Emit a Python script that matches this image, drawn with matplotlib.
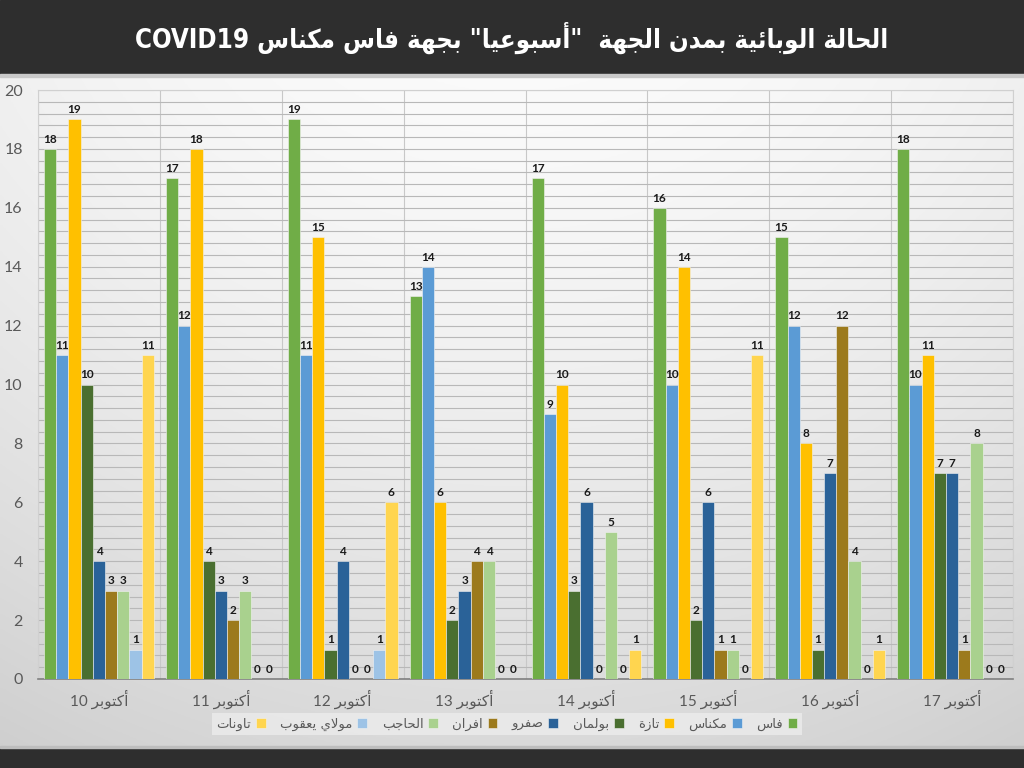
import re
import numpy as np
import matplotlib
matplotlib.use('Agg')
import matplotlib.pyplot as plt
from matplotlib.patches import Rectangle
from matplotlib.ticker import MultipleLocator

# ---------------- data ----------------
days = [10, 11, 12, 13, 14, 15, 16, 17]
month = 'أكتوبر'
title = 'الحالة الوبائية بمدن الجهة  "أسبوعيا" بجهة فاس مكناس COVID19'
series_names = ['فاس', 'مكناس', 'تازة', 'بولمان', 'صفرو', 'افران',
                'الحاجب', 'مولاي يعقوب', 'تاونات']
fes      = [18, 17, 19, 13, 17, 16, 15, 18]
meknes   = [11, 12, 11, 14, 9, 10, 12, 10]
taza     = [19, 18, 15, 6, 10, 14, 8, 11]
boulmane = [10, 4, 1, 2, 3, 2, 1, 7]
sefrou   = [4, 3, 4, 3, 6, 6, 7, 7]
ifrane   = [3, 2, 0, 4, 0, 1, 12, 1]
hajeb    = [3, 3, 0, 4, 5, 1, 4, 8]
moulay   = [1, 0, 1, 0, 0, 0, 0, 0]
taounate = [11, 0, 6, 0, 1, 11, 1, 0]
series_values = [fes, meknes, taza, boulmane, sefrou, ifrane, hajeb, moulay, taounate]
colors = ['#70AD47', '#5B9BD5', '#FFC000', '#4A6F30', '#2A6298', '#9C7A1C',
          '#A9D18E', '#9DC3E6', '#FFD54F']

# ------------- Arabic shaping (presentation forms + visual order) -------------
_F = {
    'ا': (0xFE8D, 0xFE8E, None, None), 'أ': (0xFE83, 0xFE84, None, None),
    'إ': (0xFE87, 0xFE88, None, None), 'آ': (0xFE81, 0xFE82, None, None),
    'ب': (0xFE8F, 0xFE90, 0xFE91, 0xFE92), 'ة': (0xFE93, 0xFE94, None, None),
    'ت': (0xFE95, 0xFE96, 0xFE97, 0xFE98), 'ث': (0xFE99, 0xFE9A, 0xFE9B, 0xFE9C),
    'ج': (0xFE9D, 0xFE9E, 0xFE9F, 0xFEA0), 'ح': (0xFEA1, 0xFEA2, 0xFEA3, 0xFEA4),
    'خ': (0xFEA5, 0xFEA6, 0xFEA7, 0xFEA8), 'د': (0xFEA9, 0xFEAA, None, None),
    'ذ': (0xFEAB, 0xFEAC, None, None), 'ر': (0xFEAD, 0xFEAE, None, None),
    'ز': (0xFEAF, 0xFEB0, None, None), 'س': (0xFEB1, 0xFEB2, 0xFEB3, 0xFEB4),
    'ش': (0xFEB5, 0xFEB6, 0xFEB7, 0xFEB8), 'ص': (0xFEB9, 0xFEBA, 0xFEBB, 0xFEBC),
    'ض': (0xFEBD, 0xFEBE, 0xFEBF, 0xFEC0), 'ط': (0xFEC1, 0xFEC2, 0xFEC3, 0xFEC4),
    'ظ': (0xFEC5, 0xFEC6, 0xFEC7, 0xFEC8), 'ع': (0xFEC9, 0xFECA, 0xFECB, 0xFECC),
    'غ': (0xFECD, 0xFECE, 0xFECF, 0xFED0), 'ف': (0xFED1, 0xFED2, 0xFED3, 0xFED4),
    'ق': (0xFED5, 0xFED6, 0xFED7, 0xFED8), 'ك': (0xFED9, 0xFEDA, 0xFEDB, 0xFEDC),
    'ل': (0xFEDD, 0xFEDE, 0xFEDF, 0xFEE0), 'م': (0xFEE1, 0xFEE2, 0xFEE3, 0xFEE4),
    'ن': (0xFEE5, 0xFEE6, 0xFEE7, 0xFEE8), 'ه': (0xFEE9, 0xFEEA, 0xFEEB, 0xFEEC),
    'و': (0xFEED, 0xFEEE, None, None), 'ى': (0xFEEF, 0xFEF0, None, None),
    'ي': (0xFEF1, 0xFEF2, 0xFEF3, 0xFEF4), 'ئ': (0xFE89, 0xFE8A, 0xFE8B, 0xFE8C),
}
_LAMALEF = {'ا': (0xFEFB, 0xFEFC), 'أ': (0xFEF7, 0xFEF8),
            'إ': (0xFEF9, 0xFEFA), 'آ': (0xFEF5, 0xFEF6)}


def _joins_next(c):
    return c in _F and _F[c][2] is not None


def shape(s):
    out, i, n = [], 0, len(s)
    while i < n:
        c = s[i]
        if c not in _F:
            out.append(c); i += 1; continue
        pj = _joins_next(s[i - 1]) if i > 0 else False
        if c == 'ل' and i + 1 < n and s[i + 1] in _LAMALEF:
            iso, fin = _LAMALEF[s[i + 1]]
            out.append(chr(fin if pj else iso)); i += 2; continue
        nj = (i + 1 < n) and (s[i + 1] in _F)
        iso, fin, ini, med = _F[c]
        if ini is None:
            f = fin if pj else iso
        elif pj and nj:
            f = med
        elif pj:
            f = fin
        elif nj:
            f = ini
        else:
            f = iso
        out.append(chr(f)); i += 1
    return ''.join(out)


def ar(s):
    t = shape(s)[::-1]
    return re.sub(r'[A-Za-z0-9]+', lambda m: m.group(0)[::-1], t)


# ---------------- figure ----------------
W, H = 1024, 768
fig = plt.figure(figsize=(W / 100, H / 100), dpi=100)

# background gradient
bg = fig.add_axes([0, 0, 1, 1], zorder=-10)
bg.set_axis_off()
yy = np.linspace(0, 1, 300)[:, None]
xx = np.linspace(-1, 1, 300)[None, :]
val = 0.985 - 0.14 * yy ** 1.6 - 0.04 * xx ** 2
img = np.dstack([val, val, val])
bg.imshow(img, extent=[0, 1, 0, 1], aspect='auto', origin='upper')
bg.set_xlim(0, 1); bg.set_ylim(0, 1)
bg.add_patch(Rectangle((0, 1 - 74 / H), 1, 74 / H, color='#2e2e2e'))
bg.add_patch(Rectangle((0, 1 - 77 / H), 1, 3 / H, color='#c9c9c9'))
bg.add_patch(Rectangle((0, 0), 1, 20 / H, color='#2e2e2e'))
bg.add_patch(Rectangle((0, 20 / H), 1, 2 / H, color='#bdbdbd'))
bg.text(0.5, 1 - 38 / H, ar(title), color='white', ha='center', va='center',
        fontsize=18.5, fontweight='bold', fontstretch='condensed',
        family=['DejaVu Sans'])

ax = fig.add_axes([38 / W, 1 - 679 / H, (1013 - 38) / W, (679 - 90) / H])
ax.set_facecolor('none')

n = len(series_names)
x = np.arange(len(days))
bw = 0.1
for j, (name, vals, col) in enumerate(zip(series_names, series_values, colors)):
    pos = x + (j - (n - 1) / 2) * bw
    bars = ax.bar(pos, vals, width=bw, color=col, edgecolor='#f2f2f2',
                  linewidth=0.4, zorder=3, label=ar(name))
    for b, v in zip(bars, vals):
        ax.annotate(str(v), (b.get_x() + b.get_width() / 2, v),
                    xytext=(0, 3), textcoords='offset points',
                    ha='center', va='bottom', fontsize=8.5, fontweight='bold',
                    color='#1a1a1a', family=['Lato', 'DejaVu Sans'], zorder=4)

ax.set_xlim(-0.5, len(days) - 0.5)
ax.set_ylim(0, 20)
ax.yaxis.set_major_locator(MultipleLocator(2))
ax.yaxis.set_minor_locator(MultipleLocator(0.4))
ax.set_xticks(x)
ax.set_xticks(np.arange(-0.5, len(days), 0.5), minor=True)
ax.set_xticklabels([f'{d} ' + ar(month) for d in days],
                   family=['Lato', 'DejaVu Sans'], fontsize=11, color='#595959')
for lab in ax.get_yticklabels():
    lab.set_family(['Lato', 'DejaVu Sans'])
ax.tick_params(axis='y', labelsize=11.5, labelcolor='#595959', length=0, pad=11)
ax.tick_params(axis='x', length=0, pad=8)
ax.tick_params(which='minor', length=0)
ax.grid(which='both', axis='y', color='#b8b8b8', linewidth=0.8, zorder=0)
ax.grid(which='minor', axis='x', color='#c8c8c8', linewidth=0.8, zorder=0)
ax.set_axisbelow(True)
for s in ['top', 'right', 'left']:
    ax.spines[s].set_color('#d0d0d0')
    ax.spines[s].set_linewidth(0.8)
ax.spines['bottom'].set_color('#808080')
ax.spines['bottom'].set_linewidth(1.2)

handles, labels = ax.get_legend_handles_labels()
leg = fig.legend(handles[::-1], labels[::-1], loc='center',
                 bbox_to_anchor=(507 / W, 1 - 724 / H), ncol=n,
                 markerfirst=False, frameon=True,
                 handlelength=0.75, handleheight=0.75, handletextpad=0.35,
                 columnspacing=1.1, borderpad=0.35, fancybox=False,
                 prop={'family': ['DejaVu Sans'], 'size': 9.5})
leg.get_frame().set_facecolor('#ececec')
leg.get_frame().set_edgecolor('none')
leg.get_frame().set_alpha(0.8)
for t in leg.get_texts():
    t.set_color('#595959')

fig.savefig('out.png', dpi=100)
